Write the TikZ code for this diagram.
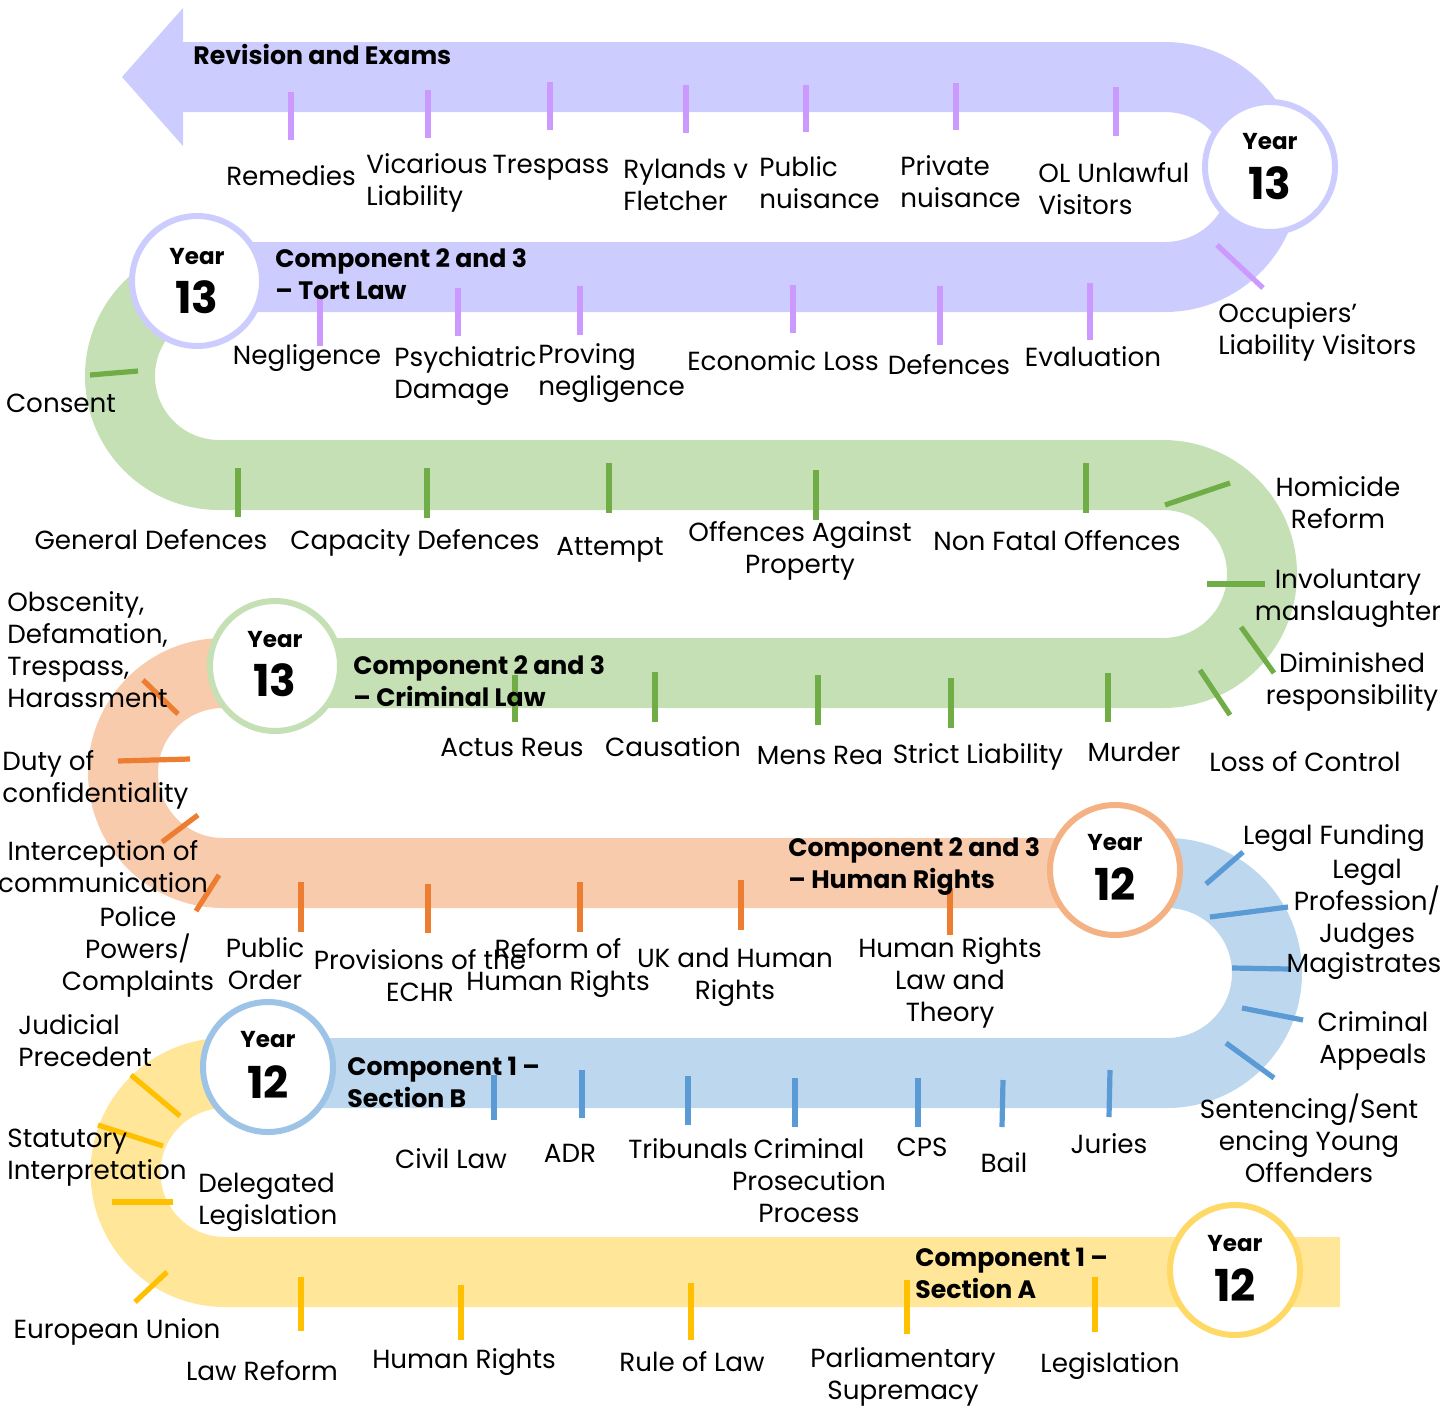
\documentclass[tikz,border=0pt]{standalone}
\usepackage{fontspec}
\setmainfont{Poppins}
\usepackage{tikz}
\usetikzlibrary{positioning}

\definecolor{tortband}{HTML}{CCCCFF}
\definecolor{torttick}{HTML}{CC99FF}
\definecolor{crimband}{HTML}{C5E0B4}
\definecolor{crimtick}{HTML}{70AD47}
\definecolor{hrband}{HTML}{F8CBAD}
\definecolor{hrtick}{HTML}{ED7D31}
\definecolor{hrring}{HTML}{F4B183}
\definecolor{secbband}{HTML}{BDD7EE}
\definecolor{secbtick}{HTML}{5B9BD5}
\definecolor{secbring}{HTML}{9DC3E6}
\definecolor{secaband}{HTML}{FFE699}
\definecolor{secatick}{HTML}{FFC000}
\definecolor{secaring}{HTML}{FFD966}

\tikzstyle{road} = [line width=35pt]
\tikzstyle{topictick} = [line width=2.6pt]
\tikzstyle{topic} = [inner sep=0pt, font=\fontsize{13.1}{16}\selectfont, align=center]
\tikzstyle{heading} = [inner sep=0pt, font=\bfseries\fontsize{12.6}{16}\selectfont,
    align=left, anchor=west]
\tikzstyle{yearring} = [circle, fill=white, line width=3pt, minimum size=65pt, inner sep=0pt]
\tikzstyle{yearword} = [inner sep=0pt, font=\bfseries\fontsize{11.5}{12}\selectfont]
\tikzstyle{yearnum} = [inner sep=0pt, font=\bfseries\fontsize{22}{22}\selectfont]

\begin{document}
\begin{tikzpicture}[x=0.5pt, y=-0.5pt]
\useasboundingbox (0,0) rectangle (1440,1408);

% the road
\fill[tortband] (183,8) -- (122,77) -- (183,146) -- cycle;
\draw[road, tortband] (182,77) -- (1165,77) arc[start angle=-90, end angle=90, radius=100] -- (190,277);
\draw[road, crimband] (200,277) -- (219,277) arc[start angle=-90, end angle=-270, radius=99]
    -- (1163,475) arc[start angle=-90, end angle=90, radius=99] -- (260,673);
\draw[road, hrband] (250,673) -- (223,673) arc[start angle=-90, end angle=-270, radius=100] -- (1120,873);
\draw[road, secbband] (1110,873) -- (1167,873) arc[start angle=-90, end angle=90, radius=100] -- (260,1073);
\draw[road, secaband] (268,1073) -- (225,1073) arc[start angle=-90, end angle=-270, radius=99.5] -- (1340,1272);

% year circles
\node[yearring, draw=tortband] (ring13a) at (1270,167) {};
\node[yearword] at (1270,142) {Year};
\node[yearnum] at (1270,183) {13};
\node[yearring, draw=tortband] (ring13b) at (197,281) {};
\node[yearword] at (197,257) {Year};
\node[yearnum] at (197,297) {13};
\node[yearring, draw=crimband] (ring13c) at (275,666) {};
\node[yearword] at (275,640) {Year};
\node[yearnum] at (275,680) {13};
\node[yearring, draw=hrring] (ring12a) at (1115,870) {};
\node[yearword] at (1115,843) {Year};
\node[yearnum] at (1115,884) {12};
\node[yearring, draw=secbring] (ring12b) at (268,1067) {};
\node[yearword] at (268,1040) {Year};
\node[yearnum] at (268,1082) {12};
\node[yearring, draw=secaring] (ring12c) at (1235,1270) {};
\node[yearword] at (1235,1244) {Year};
\node[yearnum] at (1235,1285) {12};

% ticks
\draw[topictick, torttick] (291,92) -- (291,140);
\draw[topictick, torttick] (428,90) -- (428,138);
\draw[topictick, torttick] (550,82) -- (550,130);
\draw[topictick, torttick] (686,85) -- (686,133);
\draw[topictick, torttick] (806,85) -- (806,132);
\draw[topictick, torttick] (956,83) -- (956,130);
\draw[topictick, torttick] (1116,87) -- (1116,136);
\draw[topictick, torttick] (1217,245) -- (1263,288);
\draw[topictick, torttick] (320,298) -- (320,346);
\draw[topictick, torttick] (458,288) -- (458,336);
\draw[topictick, torttick] (580,286) -- (580,335);
\draw[topictick, torttick] (793,285) -- (793,333);
\draw[topictick, torttick] (940,286) -- (940,345);
\draw[topictick, torttick] (1090,283) -- (1090,340);

\draw[topictick, crimtick] (90,375) -- (138,371);
\draw[topictick, crimtick] (238,468) -- (238,517);
\draw[topictick, crimtick] (427,468) -- (427,518);
\draw[topictick, crimtick] (609,463) -- (609,513);
\draw[topictick, crimtick] (816,470) -- (816,520);
\draw[topictick, crimtick] (1086,463) -- (1086,513);
\draw[topictick, crimtick] (1165,505) -- (1230,483);
\draw[topictick, crimtick] (1207,584) -- (1265,584);
\draw[topictick, crimtick] (1241,627) -- (1274,673);
\draw[topictick, crimtick] (1200,670) -- (1230,715);
\draw[topictick, crimtick] (515,675) -- (515,722);
\draw[topictick, crimtick] (655,672) -- (655,722);
\draw[topictick, crimtick] (818,675) -- (818,725);
\draw[topictick, crimtick] (951,678) -- (951,728);
\draw[topictick, crimtick] (1108,673) -- (1108,722);

\draw[topictick, hrtick] (143,680) -- (178,714);
\draw[topictick, hrtick] (118,761) -- (190,759);
\draw[topictick, hrtick] (162,842) -- (198,815);
\draw[topictick, hrtick] (196,911) -- (219,875);
\draw[topictick, hrtick] (301,882) -- (301,932);
\draw[topictick, hrtick] (428,884) -- (428,933);
\draw[topictick, hrtick] (580,882) -- (580,932);
\draw[topictick, hrtick] (741,880) -- (741,930);
\draw[topictick, hrtick] (950,888) -- (950,935);

\draw[topictick, secbtick] (1206,884) -- (1243,852);
\draw[topictick, secbtick] (1210,917) -- (1288,907);
\draw[topictick, secbtick] (1232,968) -- (1290,969);
\draw[topictick, secbtick] (1242,1008) -- (1303,1020);
\draw[topictick, secbtick] (1226,1043) -- (1274,1078);
\draw[topictick, secbtick] (494,1075) -- (494,1120);
\draw[topictick, secbtick] (582,1070) -- (582,1118);
\draw[topictick, secbtick] (688,1076) -- (688,1125);
\draw[topictick, secbtick] (795,1078) -- (795,1127);
\draw[topictick, secbtick] (918,1078) -- (918,1127);
\draw[topictick, secbtick] (1003,1080) -- (1002,1127);
\draw[topictick, secbtick] (1110,1070) -- (1109,1117);

\draw[topictick, secatick] (131,1075) -- (180,1116);
\draw[topictick, secatick] (98,1125) -- (163,1146);
\draw[topictick, secatick] (112,1202) -- (173,1202);
\draw[topictick, secatick] (135,1302) -- (167,1272);
\draw[topictick, secatick] (301,1277) -- (301,1331);
\draw[topictick, secatick] (461,1285) -- (461,1340);
\draw[topictick, secatick] (691,1283) -- (691,1340);
\draw[topictick, secatick] (907,1280) -- (907,1334);
\draw[topictick, secatick] (1095,1277) -- (1095,1332);

% headings
\node[heading] (revision) at (193,55) {Revision and Exams};
\node[heading] (tortlaw) at (275,274) {Component 2 and 3\\– Tort Law};
\node[heading] (crimlaw) at (353,681) {Component 2 and 3\\– Criminal Law};
\node[heading] (humrights) at (788,867) {Component 2 and 3\\– Human Rights};
\node[heading] (sectionb) at (347,1082) {Component 1 –\\Section B};
\node[heading] (sectiona) at (915,1273) {Component 1 –\\Section A};

% topics
\node[topic] (remedies) at (291,176) {Remedies};
\node[topic, anchor=west, align=left] (vicarious) at (366,183) {Vicarious\\Liability};
\node[topic] (trespass) at (551,168) {Trespass};
\node[topic, anchor=west, align=left] (rylands) at (623,185) {Rylands v\\Fletcher};
\node[topic, anchor=west, align=left] (publicnui) at (759,183) {Public\\nuisance};
\node[topic, anchor=west, align=left] (privatenui) at (900,182) {Private\\nuisance};
\node[topic, anchor=west, align=left] (olunlawful) at (1038,189) {OL Unlawful\\Visitors};
\node[topic, anchor=west, align=left] (olvisitors) at (1218,332) {Occupiers’\\Liability Visitors};
\node[topic] (negligence) at (307,358) {Negligence};
\node[topic, anchor=west, align=left] (psychiatric) at (394,376) {Psychiatric\\Damage};
\node[topic, anchor=west, align=left] (proving) at (538,373) {Proving\\negligence};
\node[topic] (economic) at (783,361) {Economic Loss};
\node[topic] (tortdef) at (949,365) {Defences};
\node[topic] (evaluation) at (1093,357) {Evaluation};
\node[topic] (consent) at (61,403) {Consent};

\node[topic] (gendef) at (151,540) {General Defences};
\node[topic] (capdef) at (415,543) {Capacity Defences};
\node[topic] (attempt) at (610,550) {Attempt};
\node[topic] (property) at (800,551) {Offences Against\\Property};
\node[topic] (nonfatal) at (1057,541) {Non Fatal Offences};
\node[topic] (homreform) at (1338,503) {Homicide\\Reform};
\node[topic] (involuntary) at (1348,598) {Involuntary\\manslaughter};
\node[topic] (diminished) at (1352,682) {Diminished\\responsibility};
\node[topic] (lossctrl) at (1305,762) {Loss of Control};
\node[topic] (actusreus) at (512,747) {Actus Reus};
\node[topic] (causation) at (673,747) {Causation};
\node[topic] (mensrea) at (820,755) {Mens Rea};
\node[topic] (strict) at (978,757) {Strict Liability};
\node[topic] (murder) at (1134,752) {Murder};

\node[topic, anchor=west, align=left] (obscenity) at (7,650) {Obscenity,\\Defamation,\\Trespass,\\Harassment};
\node[topic, anchor=west, align=left] (confidential) at (2,780) {Duty of\\confidentiality};
\node[topic] (interception) at (103,867) {Interception of\\communication};
\node[topic] (police) at (138,952) {Police\\Powers/\\Complaints};
\node[topic] (publicorder) at (265,964) {Public\\Order};
\node[topic] (echr) at (420,976) {Provisions of the\\ECHR};
\node[topic] (hrreform) at (558,968) {Reform of\\Human Rights};
\node[topic] (ukhr) at (735,977) {UK and Human\\Rights};
\node[topic] (hrtheory) at (950,983) {Human Rights\\Law and\\Theory};

\node[topic] (funding) at (1334,838) {Legal Funding};
\node[topic] (profession) at (1367,904) {Legal\\Profession/\\Judges};
\node[topic] (magistrates) at (1364,966) {Magistrates};
\node[topic] (appeals) at (1373,1041) {Criminal\\Appeals};
\node[topic] (sentencing) at (1309,1138) {Sentencing/Sent\\encing Young\\Offenders};
\node[topic] (civil) at (451,1159) {Civil Law};
\node[topic] (adr) at (570,1153) {ADR};
\node[topic] (tribunals) at (688,1149) {Tribunals};
\node[topic] (prosecution) at (809,1181) {Criminal\\Prosecution\\Process};
\node[topic] (cps) at (922,1147) {CPS};
\node[topic] (bail) at (1004,1163) {Bail};
\node[topic] (juries) at (1109,1144) {Juries};

\node[topic, anchor=west, align=left] (precedent) at (18,1041) {Judicial\\Precedent};
\node[topic, anchor=west, align=left] (statutory) at (7,1158) {Statutory\\Interpretation};
\node[topic, anchor=west, align=left] (delegated) at (198,1202) {Delegated\\Legislation};
\node[topic] (eu) at (117,1332) {European Union};
\node[topic] (lawreform) at (262,1371) {Law Reform};
\node[topic] (humanrights) at (464,1362) {Human Rights};
\node[topic] (ruleoflaw) at (692,1362) {Rule of Law};
\node[topic] (supremacy) at (903,1377) {Parliamentary\\Supremacy};
\node[topic] (legislation) at (1110,1366) {Legislation};

\end{tikzpicture}
\end{document}
